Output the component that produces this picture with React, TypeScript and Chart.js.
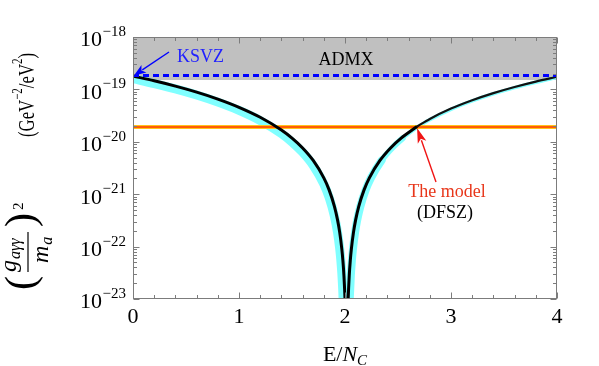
import React, { useEffect, useRef } from "react";
import { Chart, registerables } from "chart.js";

Chart.register(...registerables);

const SERIF = '"Liberation Serif", "DejaVu Serif", serif';

// ---- axis ticks ----
const xTickValues = [0, 1, 2, 3, 4];
const xTickLabels = ["0", "1", "2", "3", "4"];
const yTickExponents = [-18, -19, -20, -21, -22, -23];
const xMin = 0;
const xMax = 4;
const yMin = 1e-23;
const yMax = 1e-18;

// ---- horizontal reference levels ----
const admxLower = 1.51e-19; // ADMX excluded region: from here to the top
const ksvzLevel = 1.84e-19; // KSVZ prediction (blue dashed)
const modelLevel = 1.91e-20; // the model (orange line)
const levelX = [0, 4];

// ---- DFSZ curve (black) ----
const blackLeftX = [0, 0.2, 0.4, 0.6, 0.8, 1.0, 1.2, 1.4, 1.5, 1.6, 1.7, 1.8, 1.85, 1.9, 1.93, 1.95, 1.97, 1.98, 1.99, 2.0, 2.005];
const blackLeftY = [1.8e-19, 1.46e-19, 1.155e-19, 8.87e-20, 6.54e-20, 4.56e-20, 2.94e-20, 1.68e-20, 1.175e-20, 7.63e-21, 4.4e-21, 2.05e-21, 1.21e-21, 5.86e-22, 3.2e-22, 1.87e-22, 8.97e-23, 5.43e-23, 2.77e-23, 9.97e-24, 4.4e-24];

const blackMidX = [2.025, 2.03, 2.04, 2.05, 2.06, 2.08, 2.1, 2.13, 2.18, 2.23, 2.33, 2.43, 2.53, 2.68];
const blackMidY = [4.4e-24, 9.97e-24, 2.77e-23, 5.43e-23, 8.97e-23, 1.87e-22, 3.2e-22, 5.86e-22, 1.21e-21, 2.05e-21, 4.4e-21, 7.63e-21, 1.175e-20, 1.96e-20];

const blackUpperX = [2.68, 2.8, 3.0, 3.2, 3.4, 3.6, 3.8, 4.0];
const blackUpperY = [1.96e-20, 2.73e-20, 4.3e-20, 6.22e-20, 8.5e-20, 1.113e-19, 1.411e-19, 1.746e-19];

// ---- uncertainty band (cyan) ----
const cyanLeftX = [0, 0.2, 0.4, 0.6, 0.8, 1.0, 1.2, 1.4, 1.5, 1.6, 1.7, 1.8, 1.85, 1.9, 1.93, 1.95, 1.96, 1.97, 1.98, 1.985, 1.99];
const cyanLeftY = [1.6e-19, 1.29e-19, 1.02e-19, 7.8e-20, 5.72e-20, 3.97e-20, 2.54e-20, 1.43e-20, 9.9e-21, 6.3e-21, 3.54e-21, 1.56e-21, 8.7e-22, 3.8e-22, 1.83e-22, 9.12e-23, 5.72e-23, 3.1e-23, 1.28e-23, 6.7e-24, 2.5e-24];

const cyanMidX = [2.035, 2.045, 2.055, 2.065, 2.075, 2.095, 2.115, 2.145, 2.195, 2.245, 2.345, 2.445, 2.545, 2.68];
const cyanMidY = [4.4e-24, 9.97e-24, 2.77e-23, 5.43e-23, 8.97e-23, 1.87e-22, 3.2e-22, 5.86e-22, 1.21e-21, 2.05e-21, 4.4e-21, 7.63e-21, 1.175e-20, 1.9e-20];

const cyanUpperX = [2.68, 2.8, 3.0, 3.2, 3.4, 3.6, 3.8, 4.0];
const cyanUpperY = [1.9e-20, 2.65e-20, 4.17e-20, 6.03e-20, 8.25e-20, 1.08e-19, 1.37e-19, 1.7e-19];

const pts = (xs: number[], ys: number[]) => xs.map((x, i) => ({ x, y: ys[i] }));

type Run = { text: string; font: string; dy: number; color?: string };

function runsWidth(ctx: CanvasRenderingContext2D, runs: Run[]) {
  let total = 0;
  for (const r of runs) {
    ctx.font = r.font;
    total += ctx.measureText(r.text).width;
  }
  return total;
}

function drawRuns(ctx: CanvasRenderingContext2D, runs: Run[], x: number, y: number, align: "left" | "center" | "right" = "left") {
  const total = runsWidth(ctx, runs);
  let cx = align === "left" ? x : align === "center" ? x - total / 2 : x - total;
  ctx.textAlign = "left";
  ctx.textBaseline = "alphabetic";
  for (const r of runs) {
    ctx.font = r.font;
    if (r.color) ctx.fillStyle = r.color;
    ctx.fillText(r.text, cx, y + r.dy);
    cx += ctx.measureText(r.text).width;
  }
  return total;
}

function arrow(ctx: CanvasRenderingContext2D, x0: number, y0: number, x1: number, y1: number, color: string, headLen: number, headW: number, lw: number) {
  const ang = Math.atan2(y1 - y0, x1 - x0);
  const bx = x1 - headLen * Math.cos(ang);
  const by = y1 - headLen * Math.sin(ang);
  ctx.strokeStyle = color;
  ctx.fillStyle = color;
  ctx.lineWidth = lw;
  ctx.beginPath();
  ctx.moveTo(x0, y0);
  ctx.lineTo(bx + 2 * Math.cos(ang), by + 2 * Math.sin(ang));
  ctx.stroke();
  ctx.beginPath();
  ctx.moveTo(x1, y1);
  ctx.lineTo(bx + (headW / 2) * Math.sin(ang), by - (headW / 2) * Math.cos(ang));
  ctx.lineTo(bx + headLen * 0.25 * Math.cos(ang), by + headLen * 0.25 * Math.sin(ang));
  ctx.lineTo(bx - (headW / 2) * Math.sin(ang), by + (headW / 2) * Math.cos(ang));
  ctx.closePath();
  ctx.fill();
}

const decorPlugin = {
  id: "decor",
  afterDraw(chart: any) {
    const { ctx, chartArea: a, scales } = chart;
    const xs = scales.x;
    const ys = scales.y;
    ctx.save();

    // frame
    const L = Math.round(a.left) + 0.5;
    const R = Math.round(a.right) - 0.5;
    const T = Math.round(a.top) + 0.5;
    const B = Math.round(a.bottom) - 0.5;
    ctx.strokeStyle = "#7c7c7c";
    ctx.lineWidth = 1;
    ctx.strokeRect(L, T, R - L, B - T);

    // ticks (inward)
    ctx.beginPath();
    for (let i = 0; i <= 20; i++) {
      const px = Math.round(xs.getPixelForValue(i * 0.2)) + 0.5;
      const len = i % 5 === 0 ? 6 : 3.5;
      ctx.moveTo(px, B);
      ctx.lineTo(px, B - len);
      ctx.moveTo(px, T);
      ctx.lineTo(px, T + len);
    }
    for (let e = -23; e < -18; e++) {
      for (let m = 1; m <= 9; m++) {
        const py = Math.round(ys.getPixelForValue(m * Math.pow(10, e))) + 0.5;
        const len = m === 1 ? 6 : 3.5;
        ctx.moveTo(L, py);
        ctx.lineTo(L + len, py);
        ctx.moveTo(R, py);
        ctx.lineTo(R - len, py);
      }
    }
    ctx.stroke();

    // x tick labels
    ctx.fillStyle = "#000";
    ctx.font = `22px ${SERIF}`;
    ctx.textAlign = "center";
    ctx.textBaseline = "alphabetic";
    xTickValues.forEach((v, i) => {
      ctx.fillText(xTickLabels[i], xs.getPixelForValue(v), 323);
    });

    // y tick labels 10^n
    yTickExponents.forEach((e) => {
      const py = ys.getPixelForValue(Math.pow(10, e));
      ctx.font = `15px ${SERIF}`;
      const sup = "\u2212" + Math.abs(e);
      const w = ctx.measureText(sup).width;
      ctx.textAlign = "left";
      ctx.fillText(sup, 126 - w, py - 1);
      ctx.font = `22px ${SERIF}`;
      ctx.textAlign = "right";
      ctx.fillText("10", 126 - w - 0.5, py + 9.3);
    });

    // x axis title  E/N_C
    ctx.fillStyle = "#000";
    drawRuns(
      ctx,
      [
        { text: "E/", font: `22px ${SERIF}`, dy: 0 },
        { text: "N", font: `italic 22px ${SERIF}`, dy: 0 },
        { text: "C", font: `italic 15px ${SERIF}`, dy: 4 },
      ],
      (a.left + a.right) / 2,
      361,
      "center"
    );

    // y axis title (rotated)
    ctx.save();
    ctx.translate(0, 290);
    ctx.rotate(-Math.PI / 2);
    ctx.fillStyle = "#000";
    ctx.textAlign = "left";
    ctx.textBaseline = "alphabetic";
    ctx.font = `42px ${SERIF}`;
    ctx.fillText("(", 0, 34);
    ctx.font = `italic 24px ${SERIF}`;
    ctx.fillText("g", 18, 16);
    const gW = ctx.measureText("g").width;
    ctx.font = `italic 16px ${SERIF}`;
    ctx.fillText("a\u03b3\u03b3", 18 + gW + 1, 20);
    ctx.strokeStyle = "#000";
    ctx.lineWidth = 1.2;
    ctx.beginPath();
    ctx.moveTo(18, 28);
    ctx.lineTo(58, 28);
    ctx.stroke();
    ctx.font = `italic 24px ${SERIF}`;
    ctx.fillText("m", 27, 48);
    const mW = ctx.measureText("m").width;
    ctx.font = `italic 16px ${SERIF}`;
    ctx.fillText("a", 27 + mW + 1, 52);
    ctx.font = `42px ${SERIF}`;
    ctx.fillText(")", 63, 34);
    ctx.font = `15px ${SERIF}`;
    ctx.fillText("2", 80, 23);

    const unitRuns: Run[] = [
      { text: "(GeV", font: `23px ${SERIF}`, dy: 0 },
      { text: "\u22122", font: `15px ${SERIF}`, dy: -12 },
      { text: "/eV", font: `23px ${SERIF}`, dy: 0 },
      { text: "2", font: `15px ${SERIF}`, dy: -12 },
      { text: ")", font: `23px ${SERIF}`, dy: 0 },
    ];
    const natural = runsWidth(ctx, unitRuns);
    ctx.save();
    ctx.translate(153, 0);
    ctx.scale(84 / natural, 1);
    drawRuns(ctx, unitRuns, 0, 34, "left");
    ctx.restore();
    ctx.restore();

    // annotations
    const ksvzTipX = xs.getPixelForValue(0) + 1;
    const ksvzTipY = ys.getPixelForValue(ksvzLevel);
    arrow(ctx, 169, 52, ksvzTipX, ksvzTipY, "#0000ff", 12, 9, 1.4);
    ctx.fillStyle = "#1f1fff";
    ctx.font = `18px ${SERIF}`;
    ctx.textAlign = "left";
    ctx.fillText("KSVZ", 177, 62);

    ctx.fillStyle = "#000";
    ctx.textAlign = "center";
    ctx.fillText("ADMX", 346, 65);

    const modelTipX = xs.getPixelForValue(2.68);
    const modelTipY = ys.getPixelForValue(modelLevel) + 1;
    arrow(ctx, 436, 182, modelTipX, modelTipY, "#f01414", 15, 9, 1.4);
    ctx.fillStyle = "#e8361a";
    ctx.textAlign = "center";
    ctx.font = `18px ${SERIF}`;
    ctx.fillText("The model", 447, 197);
    ctx.fillStyle = "#000";
    ctx.fillText("(DFSZ)", 445, 218);

    ctx.restore();
  },
};

export default function App() {
  const ref = useRef<HTMLCanvasElement | null>(null);

  useEffect(() => {
    if (!ref.current) return;
    const common = { pointRadius: 0, pointHoverRadius: 0, fill: false, cubicInterpolationMode: "monotone" as const };
    const cyanWidth = (ctx: any) => {
      const x = ctx.p0.parsed.x;
      if (x < 2.25) return 8;
      if (x < 2.45) return 6;
      return 4;
    };
    const chart = new Chart(ref.current, {
      type: "line",
      data: {
        datasets: [
          {
            label: "ADMX",
            data: levelX.map((x) => ({ x, y: admxLower })),
            borderWidth: 0,
            borderColor: "rgba(0,0,0,0)",
            backgroundColor: "#c0c0c0",
            fill: "end",
            pointRadius: 0,
            order: 20,
          },
          { ...common, label: "band L", data: pts(cyanLeftX, cyanLeftY), borderColor: "#80ffff", borderWidth: 9, borderCapStyle: "round", order: 15 },
          {
            ...common,
            label: "band M",
            data: pts(cyanMidX, cyanMidY),
            borderColor: "#80ffff",
            borderWidth: 7,
            segment: { borderWidth: cyanWidth },
            borderCapStyle: "round",
            order: 15,
          },
          { ...common, label: "band U", data: pts(cyanUpperX, cyanUpperY), borderColor: "#80ffff", borderWidth: 3.5, order: 15 },
          { label: "model outer", data: levelX.map((x) => ({ x, y: modelLevel })), borderColor: "#ffc21a", borderWidth: 4, pointRadius: 0, fill: false, order: 12 },
          { label: "model inner", data: levelX.map((x) => ({ x, y: modelLevel })), borderColor: "#ff3a00", borderWidth: 1.5, pointRadius: 0, fill: false, order: 11 },
          { ...common, label: "DFSZ L", data: pts(blackLeftX, blackLeftY), borderColor: "#000", borderWidth: 3, order: 8 },
          { ...common, label: "DFSZ M", data: pts(blackMidX, blackMidY), borderColor: "#000", borderWidth: 3, order: 8 },
          { ...common, label: "DFSZ U", data: pts(blackUpperX, blackUpperY), borderColor: "#111", borderWidth: 2.2, order: 8 },
          {
            label: "KSVZ",
            data: levelX.map((x) => ({ x, y: ksvzLevel })),
            borderColor: "#0000ff",
            borderWidth: 3,
            borderDash: [6, 4],
            pointRadius: 0,
            fill: false,
            order: 5,
          },
        ],
      },
      options: {
        animation: false,
        responsive: false,
        events: [],
        layout: { padding: { left: 133, right: 42, top: 37, bottom: 67 } },
        plugins: { legend: { display: false }, tooltip: { enabled: false } },
        scales: {
          x: { type: "linear", min: xMin, max: xMax, display: false },
          y: { type: "logarithmic", min: yMin, max: yMax, display: false },
        },
      },
      plugins: [decorPlugin],
    } as any);
    return () => chart.destroy();
  }, []);

  return (
    <div style={{ position: "absolute", left: 0, top: 0, width: 599, height: 366, background: "#fff" }}>
      <canvas ref={ref} width={599} height={366} style={{ display: "block" }} />
    </div>
  );
}
